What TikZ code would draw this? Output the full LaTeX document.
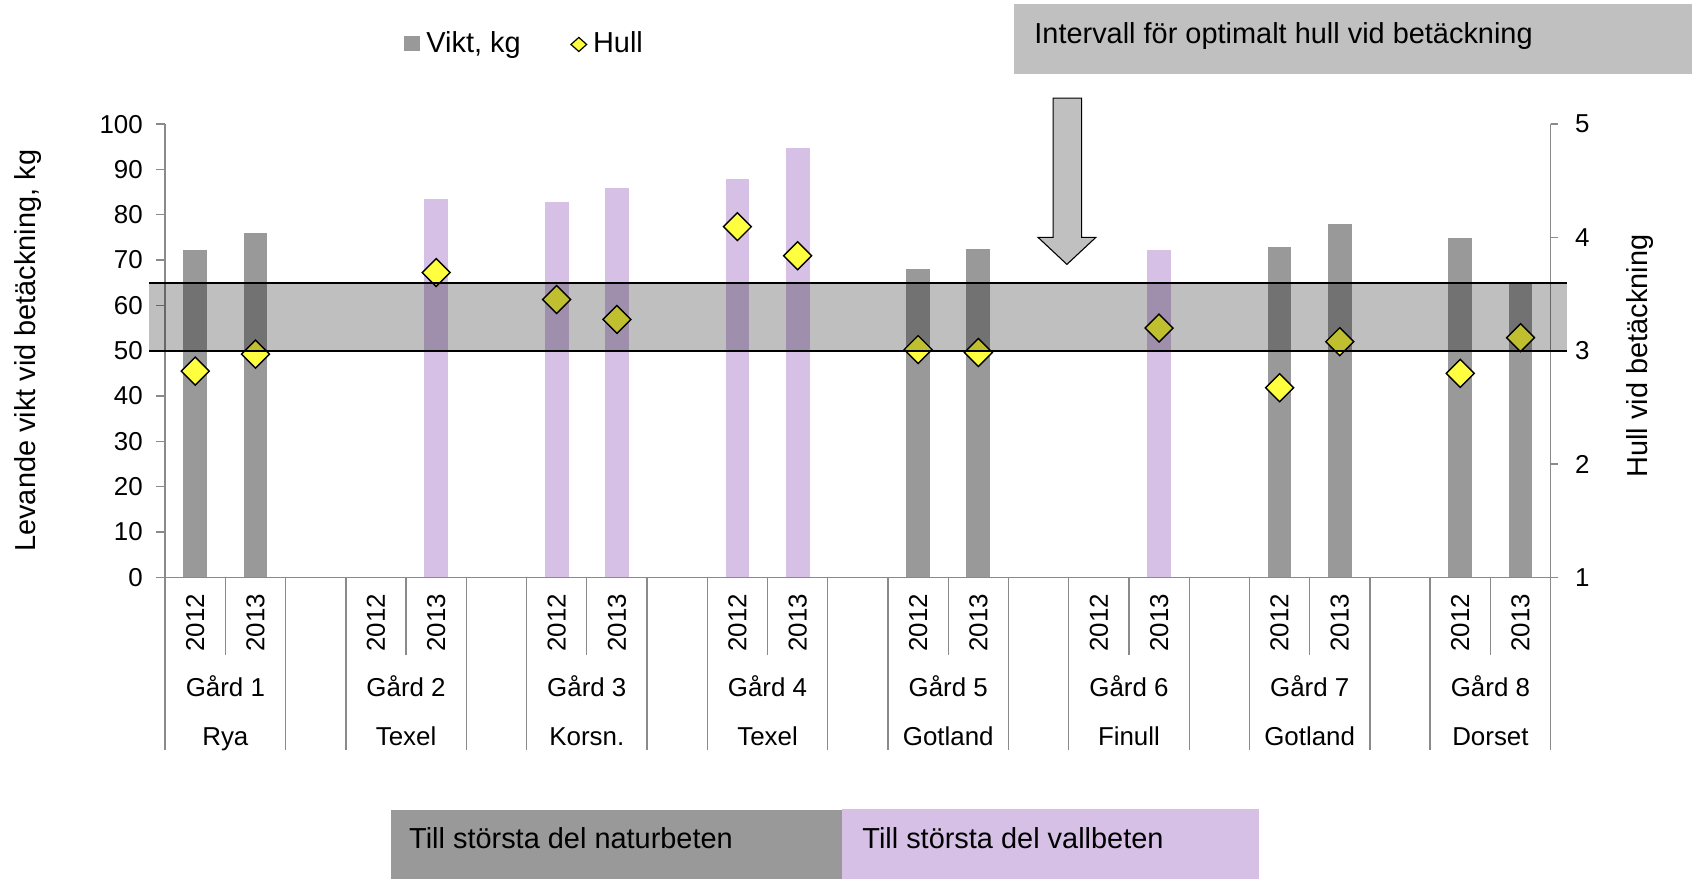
\documentclass[tikz,border=0pt]{standalone}
\usepackage{fontspec}
\setmainfont{Liberation Sans}
\usetikzlibrary{shapes.geometric}
\definecolor{bargray}{HTML}{999999}
\definecolor{barpurple}{HTML}{D6C0E6}
\definecolor{hullyellow}{HTML}{FFFF40}
\definecolor{boxgray}{HTML}{C0C0C0}
\definecolor{axisgray}{HTML}{8A8A8A}
\newcommand\mybigtxt{\fontsize{26.8}{30}\selectfont}
\newcommand\myticktxt{\fontsize{24}{28}\selectfont}
\tikzset{
  ticklbl/.style={font=\myticktxt, inner sep=0pt},
  titlelbl/.style={font=\mybigtxt, inner sep=0pt},
  hulldot/.style={diamond, draw=black, line width=1.3pt, fill=hullyellow,
    minimum width=26.4pt, minimum height=26.4pt, inner sep=0pt},
  axisline/.style={draw=axisgray, line width=1.3pt},
}
\begin{document}
\begin{tikzpicture}[x=1pt,y=-1pt]
\useasboundingbox (0,0) rectangle (1568,815);
% bars
\foreach \k/\c/\v in {0/bargray/72.2, 1/bargray/75.9, 4/barpurple/83.5,
  6/barpurple/82.8, 7/barpurple/85.8, 9/barpurple/87.9, 10/barpurple/94.8,
  12/bargray/68.0, 13/bargray/72.5, 16/barpurple/72.2, 18/bargray/72.8,
  19/bargray/77.9, 21/bargray/74.8, 22/bargray/65.0}
  \fill[\c] ({153+(\k+0.5)*55.826-11},535) rectangle ({153+(\k+0.5)*55.826+11},{535-4.2*\v});
% axes
\draw[axisline] (153,115) -- (153,535);
\draw[axisline] (1437,115) -- (1437,535);
\draw[axisline] (145,535) -- (1444,535);
\foreach \v in {0,10,...,100} {
  \draw[axisline] (145,{535-4.2*\v}) -- (153,{535-4.2*\v});
  \node[ticklbl, anchor=east] (ly\v) at (132.5,{535-4.2*\v}) {\v};
}
\foreach \h in {1,...,5} {
  \draw[axisline] (1437,{535-105*(\h-1)}) -- (1444,{535-105*(\h-1)});
  \node[ticklbl, anchor=west] (ry\h) at (1459.5,{535-105*(\h-1)}) {\h};
}
% category lines
\foreach \k in {1,4,7,10,13,16,19,22}
  \draw[axisline] ({153+\k*55.826},535) -- ({153+\k*55.826},607);
\foreach \k in {0,2,3,5,6,8,9,11,12,14,15,17,18,20,21,23}
  \draw[axisline] ({153+\k*55.826},535) -- ({153+\k*55.826},695);
% category labels
\foreach \g/\gname/\breed in {0/1/Rya, 1/2/Texel, 2/3/Korsn., 3/4/Texel,
  4/5/Gotland, 5/6/Finull, 6/7/Gotland, 7/8/Dorset} {
  \node[ticklbl, rotate=90] (ya\g) at ({153+(3*\g+0.5)*55.826},577) {2012};
  \node[ticklbl, rotate=90] (yb\g) at ({153+(3*\g+1.5)*55.826},577) {2013};
  \node[ticklbl, anchor=base] (gd\g) at ({153+(3*\g+1)*55.826},645.6) {Gård \gname};
  \node[ticklbl, anchor=base] (br\g) at ({153+(3*\g+1)*55.826},690.4) {\breed};
}
% hull diamonds
\foreach \k/\h [count=\i] in {0/2.82, 1/2.97, 4/3.69, 6/3.452, 7/3.276,
  9/4.095, 10/3.838, 12/3.01, 13/2.984, 16/3.2, 18/2.673, 19/3.08,
  21/2.80, 22/3.115}
  \node[hulldot] (hd\i) at ({153+(\k+0.5)*55.826},{535-105*(\h-1)}) {};
% optimal band
\fill[black, fill opacity=0.25] (138,262) rectangle (1452,325);
\draw[line width=1.5pt] (138,262) -- (1452,262);
\draw[line width=1.5pt] (138,325) -- (1452,325);
% arrow
\draw[fill=boxgray, line width=1pt, line join=miter]
  (976,91) -- (1002.4,91) -- (1002.4,220) -- (1015.5,220) -- (988.7,245)
  -- (962,220) -- (976,220) -- cycle;
% top-right box
\fill[boxgray] (940,4) rectangle (1568,69);
\node[titlelbl, anchor=base west] (intervall) at (958.4,40) {Intervall för optimalt hull vid betäckning};
% legend
\fill[bargray] (374.5,33.5) rectangle (389,47.5);
\node[titlelbl, anchor=base west] (legvikt) at (395,48.5) {Vikt, kg};
\node[diamond, draw=black, line width=1.1pt, fill=hullyellow, minimum width=15pt,
  minimum height=13.5pt, inner sep=0pt] (leghulldot) at (536.4,41.2) {};
\node[titlelbl, anchor=base west] (leghull) at (549.4,48.5) {Hull};
% axis titles
\node[titlelbl, rotate=90, anchor=base] (ltitle) at (33,325) {Levande vikt vid betäckning, kg};
\node[titlelbl, rotate=90, anchor=base] (rtitle) at (1527,330) {Hull vid betäckning};
% bottom boxes
\fill[bargray] (362.5,750.6) rectangle (780.3,815);
\fill[barpurple] (780.3,749.7) rectangle (1166.7,815);
\node[titlelbl, anchor=base west] (natur) at (379,786) {Till största del naturbeten};
\node[titlelbl, anchor=base west] (vall) at (799,786) {Till största del vallbeten};
\end{tikzpicture}
\end{document}
